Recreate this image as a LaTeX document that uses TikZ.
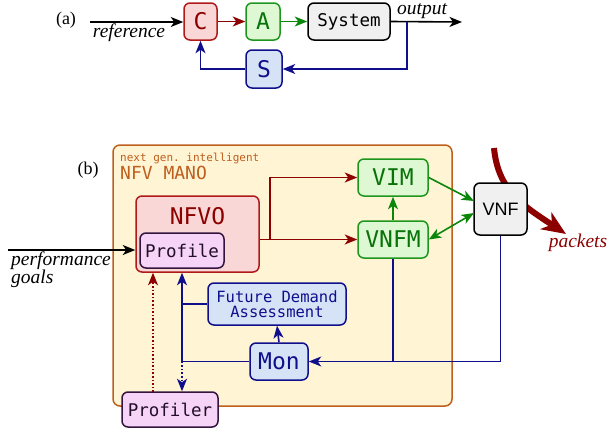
\documentclass[tikz,border=0pt]{standalone}
\usepackage{fontspec}
\setmainfont{Liberation Serif}
\setmonofont{DejaVu Sans Mono}
\setsansfont{Liberation Sans}
\usetikzlibrary{arrows.meta}
\definecolor{dred}{RGB}{140,0,0}
\definecolor{rborder}{RGB}{175,25,25}
\definecolor{rfill}{RGB}{250,215,215}
\definecolor{gline}{RGB}{10,135,10}
\definecolor{gborder}{RGB}{30,150,30}
\definecolor{gfill}{RGB}{222,248,212}
\definecolor{nline}{RGB}{15,15,140}
\definecolor{nfill}{RGB}{214,226,245}
\definecolor{vborder}{RGB}{50,20,60}
\definecolor{vfill}{RGB}{245,212,247}
\definecolor{gyfill}{RGB}{240,240,240}
\definecolor{mborder}{RGB}{190,95,30}
\definecolor{mfill}{RGB}{255,244,212}
\begin{document}
\begin{tikzpicture}[x=1pt,y=-1pt,
  box/.style={draw, rounded corners=6pt, line width=1.5pt, inner sep=0pt, align=center, anchor=center},
  redbox/.style={box, draw=rborder, fill=rfill, text=dred},
  greenbox/.style={box, draw=gborder, fill=gfill, text=gline!85!black},
  graybox/.style={box, draw=black, fill=gyfill, text=black},
  bluebox/.style={box, draw=nline, fill=nfill, text=nline},
  violetbox/.style={box, draw=vborder, fill=vfill, text=vborder!70!black},
  tip/.tip={Stealth[length=12.5pt,width=10pt,inset=3.5pt]},
  conn/.style={line width=1.6pt, -tip},
  plain/.style={line width=1.6pt},
  bigfont/.style={font=\ttfamily\fontsize{23}{25}\selectfont},
  midfont/.style={font=\ttfamily\fontsize{17.5}{20}\selectfont},
  lbl/.style={font=\itshape\fontsize{19.5}{21}\selectfont},
]
\useasboundingbox (0,0) rectangle (608,432);

% ---------- (a) ----------
\node[font=\fontsize{18}{20}\selectfont] (la) at (66,20) {(a)};
\node[redbox, bigfont, minimum width=33pt, minimum height=37pt] (C) at (200.5,21.5) {C};
\node[greenbox, bigfont, minimum width=34pt, minimum height=37pt] (A) at (263,21.5) {A};
\node[graybox, midfont, minimum width=82pt, minimum height=37pt] (Sys) at (349,21.5) {System};
\node[bluebox, bigfont, minimum width=36pt, minimum height=38pt] (S) at (264,69) {S};
\coordinate (refin) at (90,22);
\coordinate (outend) at (462,22);
\coordinate (tap) at (407,22);
\draw[conn, black] (refin) -- (refin -| C.west);
\node[lbl] (reflbl) at (129,33) {reference};
\draw[conn, dred] (C) -- (A);
\draw[conn, gline] (A) -- (Sys);
\draw[conn, black] (Sys.east) -- (outend);
\node[lbl] (outlbl) at (422,11) {output};
\draw[conn, nline] (tap) |- (S.east);
\draw[conn, nline] (S.west) -| (C.south);

% ---------- (b) ----------
\node[font=\fontsize{18}{20}\selectfont] (lb) at (88,170) {(b)};
\draw[line width=1.5pt, draw=mborder, fill=mfill, rounded corners=7pt] (113,145) rectangle (452,406);
\node[anchor=west, text=mborder, font=\ttfamily\fontsize{11}{12}\selectfont, inner sep=0pt] (ng) at (120,158) {next gen. intelligent};
\node[anchor=west, text=mborder, font=\ttfamily\fontsize{18}{20}\selectfont, inner sep=0pt] (mano) at (120,173) {NFV MANO};

% packets arrow (behind VNF)
\coordinate (pktin) at (494,148);
\coordinate (pktout) at (566,234);
\draw[dred, line width=6pt, -{Stealth[length=24pt,width=20pt,inset=7pt]}]
  (pktin) .. controls (498,190) and (522,205) .. (pktout);

\node[redbox, minimum width=123pt, minimum height=76pt] (NFVO) at (197.5,234) {};
\node[text=dred, font=\ttfamily\fontsize{23}{25}\selectfont] (nfvotxt) at (197.5,216) {NFVO};
\node[violetbox, midfont, minimum width=84pt, minimum height=35pt] (Prof) at (182,250.5) {Profile};
\node[greenbox, bigfont, minimum width=70pt, minimum height=37pt] (VIM) at (393,177.5) {VIM};
\node[greenbox, bigfont, minimum width=70pt, minimum height=37pt] (VNFM) at (393,239.5) {VNFM};
\node[graybox, font=\sffamily\fontsize{18}{20}\selectfont, minimum width=53pt, minimum height=52pt] (VNF) at (500.5,209) {VNF};
\node[bluebox, font=\ttfamily\fontsize{15.5}{17}\selectfont, minimum width=138pt, minimum height=42pt] (FDA) at (277,304) {Future Demand\\[-2pt]Assessment};
\node[bluebox, bigfont, minimum width=58pt, minimum height=37pt] (Mon) at (279,361.5) {Mon};
\node[violetbox, midfont, minimum width=96pt, minimum height=35pt] (Profiler) at (170,409.5) {Profiler};

\node[lbl, text=dred] (pkt) at (578,243) {packets};
\coordinate (perfin) at (8,250);
\draw[conn, black] (perfin) -- (perfin -| NFVO.west);
\node[lbl, align=left, anchor=north west, inner sep=0pt] (perf) at (11,252) {performance\\[-3pt]goals};

% NFVO -> VIM / VNFM
\coordinate (br) at (270,239);
\draw[conn, dred] (NFVO.east |- VNFM.west) -- (VNFM.west);
\draw[conn, dred] (br) |- (VIM.west);
\draw[conn, gline] (VNFM.north) -- (VIM.south);
\coordinate (vnfa) at (474,201);
\coordinate (vnfb) at (474,213);
\draw[conn, gline] (VIM.east) -- (vnfa);
\draw[line width=1.6pt, gline, tip-tip] (VNFM.east) -- (vnfb);

% monitoring
\coordinate (bus) at (182,361.5);
\draw[conn, nline] (Mon.north) -- (FDA.south);
\draw[conn, nline] (Mon.west) -- (bus) -- (bus |- NFVO.south);
\draw[plain, nline] (FDA.west) -- (FDA.west -| bus);
\draw[conn, nline] (VNF.south) |- (Mon.east);
\draw[plain, nline] (VNFM.south) -- (VNFM.south |- Mon.east);
\draw[conn, nline, dotted] (bus) -- (bus |- Profiler.north);
\coordinate (pf) at (153,392);
\draw[conn, dred, dotted] (pf) -- (pf |- NFVO.south);
\end{tikzpicture}
\end{document}
